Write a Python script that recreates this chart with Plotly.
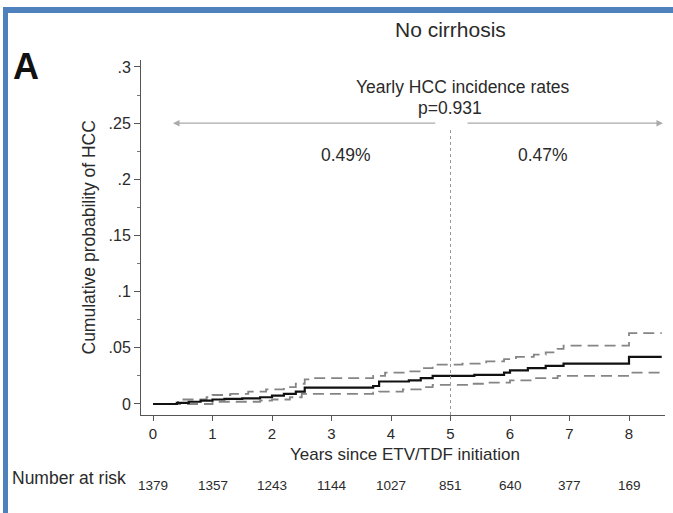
import plotly.graph_objects as go

# Kaplan-Meier style cumulative incidence (step function)
t_est = [0, 0.4, 0.6, 0.8, 1.0, 1.2, 1.5, 1.8, 2.0, 2.2, 2.4, 2.55, 3.7, 3.8, 4.3, 4.5, 4.7, 5.4, 5.9, 6.0, 6.3, 6.6, 6.9, 8.0, 8.55]
y_est = [0, 0.001, 0.002, 0.003, 0.004, 0.0045, 0.005, 0.006, 0.0075, 0.009, 0.011, 0.0145, 0.016, 0.020, 0.021, 0.023, 0.025, 0.026, 0.028, 0.030, 0.032, 0.034, 0.036, 0.042, 0.042]

t_up = [0, 0.42, 0.9, 1.0, 1.3, 1.6, 1.9, 2.2, 2.4, 2.55, 2.7, 3.7, 3.9, 4.3, 4.5, 4.7, 5.2, 5.6, 5.9, 6.1, 6.4, 6.6, 6.8, 6.9, 8.0, 8.55]
y_up = [0, 0.004, 0.006, 0.008, 0.009, 0.011, 0.013, 0.015, 0.018, 0.022, 0.023, 0.025, 0.028, 0.029, 0.032, 0.035, 0.036, 0.038, 0.040, 0.042, 0.044, 0.046, 0.049, 0.052, 0.063, 0.063]

t_lo = [0, 1.0, 1.8, 2.0, 2.3, 2.5, 3.7, 3.8, 4.2, 4.5, 4.7, 5.3, 5.6, 6.0, 6.4, 6.8, 8.0, 8.55]
y_lo = [0, 0.002, 0.003, 0.004, 0.006, 0.009, 0.010, 0.011, 0.013, 0.015, 0.017, 0.018, 0.019, 0.021, 0.023, 0.025, 0.028, 0.028]

x_ticks = [0, 1, 2, 3, 4, 5, 6, 7, 8]
y_tickvals = [0, 0.05, 0.1, 0.15, 0.2, 0.25, 0.3]
y_ticktext = ["0", ".05", ".1", ".15", ".2", ".25", ".3"]
at_risk = [1379, 1357, 1243, 1144, 1027, 851, 640, 377, 169]

rate_before = "0.49%"
rate_after = "0.47%"
p_text = "p=0.931"

FONT = "Liberation Sans, Arial, sans-serif"
TXT = "#2a2a2a"

fig = go.Figure()
for tx, ty in [(t_up, y_up), (t_lo, y_lo)]:
    fig.add_trace(go.Scatter(x=tx, y=ty, mode="lines", line_shape="hv",
                             line=dict(color="#858585", width=1.8, dash="11px,6px"),
                             showlegend=False, hoverinfo="skip"))
fig.add_trace(go.Scatter(x=t_est, y=y_est, mode="lines", line_shape="hv",
                         line=dict(color="#111111", width=2.2),
                         showlegend=False, hoverinfo="skip"))

W, H = 673, 513
L, R, T, B = 141, 8, 60, 98

fig.update_layout(
    width=W, height=H,
    margin=dict(l=L, r=R, t=T, b=B, pad=0),
    paper_bgcolor="white", plot_bgcolor="white",
    font=dict(family=FONT, size=15, color=TXT),
    showlegend=False,
    xaxis=dict(range=[-0.202, 8.605], tickmode="array", tickvals=x_ticks,
               ticks="outside", ticklen=5, tickcolor="#555", showline=True,
               linecolor="#555", linewidth=1, showgrid=False, zeroline=False,
               tickfont=dict(size=15, color=TXT)),
    yaxis=dict(range=[-0.0098, 0.3062], tickmode="array", tickvals=y_tickvals,
               ticktext=y_ticktext, ticks="outside", ticklen=6, tickcolor="#555",
               showline=True, linecolor="#555", linewidth=1, showgrid=False,
               zeroline=False, tickfont=dict(size=16, color=TXT),
               minor=dict(tickvals=[0.025, 0.075, 0.125, 0.175, 0.225, 0.275],
                          ticks="outside", ticklen=3, tickcolor="#777")),
)

# dotted reference line at 5 years
fig.add_shape(type="line", xref="x", yref="y", x0=5, x1=5, y0=-0.0098, y1=0.2457,
              line=dict(color="#999", width=1, dash="dot"))

# arrows
fig.add_annotation(x=0.336, y=0.25, ax=4.77, ay=0.25, xref="x", yref="y",
                   axref="x", ayref="y", text="", showarrow=True,
                   arrowhead=2, arrowsize=1, arrowwidth=1.3, arrowcolor="#aaaaaa")
fig.add_annotation(x=8.57, y=0.25, ax=5.26, ay=0.25, xref="x", yref="y",
                   axref="x", ayref="y", text="", showarrow=True,
                   arrowhead=2, arrowsize=1, arrowwidth=1.3, arrowcolor="#aaaaaa")

def px_x(px):
    return (px - L) / (W - L - R)

def px_y(py):
    return (H - B - py) / (H - T - B)

def note(text, x, y, size=13, xanchor="center", **kw):
    fig.add_annotation(text=text, x=x, y=y, xref="paper", yref="paper",
                       showarrow=False, xanchor=xanchor, yanchor="middle",
                       font=dict(family=FONT, size=size, color=kw.pop("color", TXT)), **kw)

note("No cirrhosis", px_x(450), px_y(30), size=21)
note("<b>A</b>", px_x(26), px_y(67), size=36, color="#111")
note("Yearly HCC incidence rates", px_x(463), px_y(87), size=17.5)
note(p_text, px_x(450), px_y(108), size=17.5)
fig.add_annotation(text=rate_before, x=3.25, y=(404 - 155) / 1123.3, xref="x", yref="y",
                   showarrow=False, font=dict(family=FONT, size=17.5, color=TXT))
fig.add_annotation(text=rate_after, x=6.55, y=(404 - 155) / 1123.3, xref="x", yref="y",
                   showarrow=False, font=dict(family=FONT, size=17.5, color=TXT))
note("Cumulative probability of HCC", px_x(88), 0.5, size=17.5, textangle=-90)
note("Years since ETV/TDF initiation", px_x(405), px_y(454), size=17)
note("Number at risk", px_x(10), px_y(478), size=17.5, xanchor="left")
for xv, n in zip(x_ticks, at_risk):
    fig.add_annotation(text=str(n), x=xv, y=px_y(495), xref="x", yref="paper",
                       showarrow=False, font=dict(family=FONT, size=13.5, color=TXT))

# blue frame (top and left edges)
BLUE = "#4f81bd"
fig.add_shape(type="rect", xref="paper", yref="paper",
              x0=px_x(3), x1=px_x(673), y0=px_y(13), y1=px_y(7),
              fillcolor=BLUE, line=dict(width=0), layer="above")
fig.add_shape(type="rect", xref="paper", yref="paper",
              x0=px_x(3), x1=px_x(8), y0=px_y(513), y1=px_y(7),
              fillcolor=BLUE, line=dict(width=0), layer="above")

fig.write_html("out.html")
